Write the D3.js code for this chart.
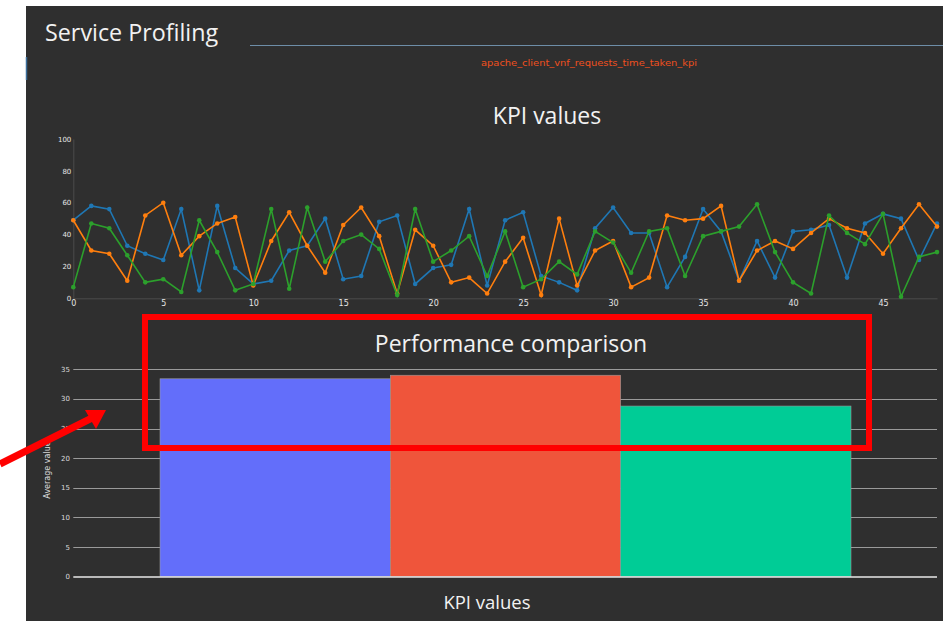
<!DOCTYPE html>
<html><head><meta charset="utf-8">
<script src="https://cdn.jsdelivr.net/npm/d3@7"></script>
<style>
html,body{margin:0;padding:0;background:#fff;}
svg{display:block;font-family:"Open Sans","Noto Sans",sans-serif;}
</style></head>
<body>
<svg id="c" width="943" height="621"></svg>
<script>
// ---- data ----
const xIndex = d3.range(0, 49);
const seriesBlue = [49,58,56,33,28,24,56,5,58,19,9,11,30,33,50,12,14,48,52,9,19,21,56,8,49,54,14,10,5,44,57,41,41,7,26,56,42,11,36,13,42,43,46,13,47,53,50,24,47];
const seriesOrange = [49,30,28,11,52,60,27,39,47,51,8,36,54,33,16,46,57,39,3,43,33,10,13,3,23,38,2,50,8,30,36,7,13,52,49,50,58,11,30,36,31,41,50,44,41,28,44,59,45];
const seriesGreen = [7,47,44,27,10,12,4,49,29,5,9,56,6,57,23,36,40,31,2,56,23,30,39,14,42,7,12,23,15,42,35,16,42,44,14,39,42,45,59,29,10,3,52,41,34,53,1,26,29];
const lineNames = ["blue","orange","green"];
const lineColors = ["#1f77b4","#ff7f0e","#2ca02c"];
const lineXTicks = [0,5,10,15,20,25,30,35,40,45];
const lineYTicks = [0,20,40,60,80,100];

const barCategories = ["A","B","C"];
const barValues = [33.4, 34.0, 28.8];
const barColors = ["#636efa","#ef553b","#00cc96"];
const barYTicks = [0,5,10,15,20,25,30,35];

// ---- layout ----
const svg = d3.select("#c");
const bg = "#2f2f2f";
svg.append("rect").attr("x",26).attr("y",6).attr("width",917).attr("height",615).attr("fill",bg);
svg.append("line").attr("x1",26.5).attr("x2",26.5).attr("y1",57).attr("y2",80).attr("stroke","#3a6d9a").attr("stroke-width",1.5);

svg.append("text").attr("x",45).attr("y",41).attr("fill","#f2f2f2").attr("font-size",23.3).text("Service Profiling");
svg.append("line").attr("x1",250).attr("x2",943).attr("y1",45.5).attr("y2",45.5).attr("stroke","#6e8ea8").attr("stroke-width",1);
svg.append("text").attr("x",589).attr("y",66).attr("text-anchor","middle").attr("fill","#f0501e")
  .attr("font-size",9).attr("font-family","'Liberation Sans Narrow','DejaVu Sans Condensed',sans-serif")
  .attr("textLength",216).attr("lengthAdjust","spacingAndGlyphs").text("apache_client_vnf_requests_time_taken_kpi");

// ---- line chart ----
svg.append("text").attr("x",547).attr("y",124).attr("text-anchor","middle").attr("fill","#f2f2f2").attr("font-size",23).text("KPI values");
const lx = d3.scaleLinear().domain([0,48]).range([73.3,937]);
const ly = d3.scaleLinear().domain([0,100]).range([298.3,139]);

const gLine = svg.append("g");
const xAxisL = d3.axisBottom(lx).tickValues(lineXTicks).tickSize(0).tickPadding(2);
const gxl = gLine.append("g").attr("transform","translate(0,298.3)").call(xAxisL);
gxl.select(".domain").attr("stroke","#4a4a4a");
gxl.selectAll("text").attr("fill","#e6e6e6").attr("font-size",8).attr("font-family","'DejaVu Sans',sans-serif");
const yAxisL = d3.axisLeft(ly).tickValues(lineYTicks).tickSize(0).tickPadding(2);
const gyl = gLine.append("g").attr("transform","translate(73.3,0)").call(yAxisL);
gyl.select(".domain").attr("stroke","#4a4a4a");
gyl.selectAll("text").attr("fill","#e6e6e6").attr("font-size",7).attr("font-family","'DejaVu Sans',sans-serif");

const allSeries = [seriesBlue, seriesOrange, seriesGreen];
const lineGen = d3.line().x((d,i)=>lx(xIndex[i])).y(d=>ly(d));
allSeries.forEach((s,k)=>{
  gLine.append("path").datum(s).attr("d",lineGen).attr("fill","none").attr("stroke",lineColors[k]).attr("stroke-width",1.6);
  gLine.append("g").selectAll("circle").data(s).join("circle")
    .attr("cx",(d,i)=>lx(xIndex[i])).attr("cy",d=>ly(d)).attr("r",2.3).attr("fill",lineColors[k]);
});

// ---- bar chart ----
const by = d3.scaleLinear().domain([0,35]).range([576.7,369.3]);
const bx = d3.scaleBand().domain(barCategories).range([160,851]).paddingInner(0);
const gBar = svg.append("g");
gBar.append("g").selectAll("line").data(barYTicks.filter(t=>t>0)).join("line")
  .attr("x1",73.3).attr("x2",937).attr("y1",d=>Math.round(by(d))+0.5).attr("y2",d=>Math.round(by(d))+0.5)
  .attr("stroke","#9a9a9a").attr("stroke-width",1);
gBar.append("g").selectAll("text").data(barYTicks).join("text")
  .attr("x",70).attr("y",d=>by(d)+2.5).attr("text-anchor","end").attr("fill","#dcdcdc")
  .attr("font-size",7).attr("font-family","'DejaVu Sans',sans-serif").text(d=>d);
gBar.append("g").selectAll("rect").data(barValues).join("rect")
  .attr("x",(d,i)=>bx(barCategories[i])).attr("width",bx.bandwidth())
  .attr("y",d=>by(d)).attr("height",d=>by(0)-by(d))
  .attr("fill",(d,i)=>barColors[i]).attr("stroke","#9a9a9a").attr("stroke-width",0.6);
gBar.append("line").attr("x1",73.3).attr("x2",937).attr("y1",577).attr("y2",577).attr("stroke","#e8e8e8").attr("stroke-width",1.5);
svg.append("text").attr("transform","translate(50,470) rotate(-90)").attr("text-anchor","middle")
  .attr("fill","#dcdcdc").attr("font-size",8).attr("font-family","'DejaVu Sans',sans-serif").text("Average value");
svg.append("text").attr("x",511).attr("y",352).attr("text-anchor","middle").attr("fill","#f2f2f2").attr("font-size",23).text("Performance comparison");
svg.append("text").attr("x",487).attr("y",609).attr("text-anchor","middle").attr("fill","#f2f2f2").attr("font-size",18.5).text("KPI values");

// ---- annotation ----
svg.append("rect").attr("x",145).attr("y",317).attr("width",724).attr("height",131)
  .attr("fill","none").attr("stroke","#ff0000").attr("stroke-width",6);
svg.append("line").attr("x1",0).attr("y1",464).attr("x2",92).attr("y2",418).attr("stroke","#ff0000").attr("stroke-width",7);
svg.append("path").attr("d","M106,410 L85,410 L96,429 Z").attr("fill","#ff0000");
</script>
</body></html>
